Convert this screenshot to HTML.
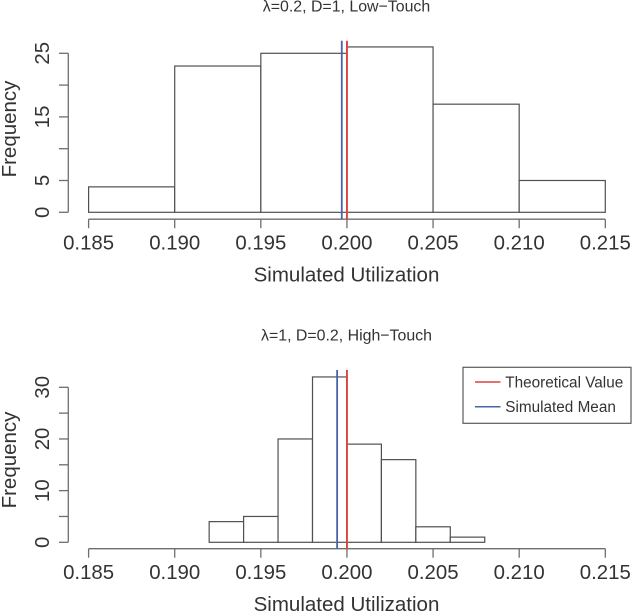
<!DOCTYPE html>
<html>
<head>
<meta charset="utf-8">
<style>
html,body{margin:0;padding:0;background:#fff;width:632px;height:612px;overflow:hidden}
svg{display:block;font-family:"Liberation Sans",sans-serif}
text{fill:#333}
</style>
</head>
<body>
<svg id="chart" xmlns="http://www.w3.org/2000/svg" width="632" height="612" viewBox="0 0 632 612"></svg>
<script>
const xTicks = [0.185, 0.19, 0.195, 0.2, 0.205, 0.21, 0.215];
const xTickLabels = ['0.185', '0.190', '0.195', '0.200', '0.205', '0.210', '0.215'];

const topBreaks = [0.185, 0.19, 0.195, 0.2, 0.205, 0.21, 0.215];
const topCounts = [4, 23, 25, 26, 17, 5];
const topYTicks = [0, 5, 10, 15, 20, 25];
const topYLabels = ['0', '5', '', '15', '', '25'];
const topTheoretical = 0.2;
const topMean = 0.1997;

const bottomBreaks = [0.192, 0.194, 0.196, 0.198, 0.2, 0.202, 0.204, 0.206, 0.208];
const bottomCounts = [4, 5, 20, 32, 19, 16, 3, 1];
const bottomYTicks = [0, 5, 10, 15, 20, 25, 30];
const bottomYLabels = ['0', '', '10', '', '20', '', '30'];
const bottomTheoretical = 0.2;
const bottomMean = 0.19943;

const svg = document.getElementById('chart');
const NS = 'http://www.w3.org/2000/svg';
const GREY = '#6e6e6e';
const BAR = '#505050';
const RED = '#d9443f';
const BLUE = '#4a62a8';

function make(parent, tag, attrs, txt) {
  const el = document.createElementNS(NS, tag);
  for (const k in attrs) el.setAttribute(k, attrs[k]);
  if (txt !== undefined) el.textContent = txt;
  parent.appendChild(el);
  return el;
}
function xPos(v) { return 88.6 + (v - 0.185) * (605.3 - 88.6) / 0.03; }

function drawPanel(cfg) {
  const g = make(svg, 'g', {});
  
  
  const yPos = v => cfg.y0 - v * cfg.unit;

  const title = make(g, 'text', {x: 346.5, y: cfg.titleY, 'text-anchor': 'middle', 'font-size': 15.9}, cfg.title);
  
  

  cfg.counts.forEach((c, i) => {
    const x0 = xPos(cfg.breaks[i]), x1 = xPos(cfg.breaks[i + 1]);
    const bar = make(g, 'rect', {x: x0, y: yPos(c), width: x1 - x0, height: c * cfg.unit, fill: '#fff', stroke: BAR, 'stroke-width': 1.2});
    
    
  });

  const xAxis = make(g, 'g', {});
  
  
  make(xAxis, 'line', {x1: xPos(xTicks[0]), x2: xPos(xTicks[xTicks.length - 1]), y1: cfg.axisY, y2: cfg.axisY, stroke: GREY, 'stroke-width': 1.3});
  xTicks.forEach((t, i) => {
    make(xAxis, 'line', {x1: xPos(t), x2: xPos(t), y1: cfg.axisY, y2: cfg.axisY + 9, stroke: GREY, 'stroke-width': 1.3});
    make(xAxis, 'text', {x: xPos(t), y: cfg.axisY + 30.5, 'text-anchor': 'middle', 'font-size': 20.4}, xTickLabels[i]);
  });

  const xTitle = make(g, 'text', {x: 346.5, y: cfg.axisY + 62.5, 'text-anchor': 'middle', 'font-size': 20.5}, 'Simulated Utilization');
  
  

  const yAxis = make(g, 'g', {});
  
  
  make(yAxis, 'line', {x1: 68.3, x2: 68.3, y1: yPos(cfg.yTicks[0]), y2: yPos(cfg.yTicks[cfg.yTicks.length - 1]), stroke: GREY, 'stroke-width': 1.3});
  cfg.yTicks.forEach((t, i) => {
    make(yAxis, 'line', {x1: 59, x2: 68.3, y1: yPos(t), y2: yPos(t), stroke: GREY, 'stroke-width': 1.3});
    if (cfg.yLabels[i]) {
      make(yAxis, 'text', {transform: 'translate(49 ' + yPos(t) + ') rotate(-90)', 'text-anchor': 'middle', 'font-size': 20.4}, cfg.yLabels[i]);
    }
  });

  const yTitle = make(g, 'text', {transform: 'translate(16 ' + cfg.yTitleY + ') rotate(-90)', 'text-anchor': 'middle', 'font-size': 20.5}, 'Frequency');
  
  

  const meanLine = make(g, 'line', {x1: xPos(cfg.mean), x2: xPos(cfg.mean), y1: cfg.lineTop, y2: cfg.axisY, stroke: BLUE, 'stroke-width': 1.8});
  
  
  const theoLine = make(g, 'line', {x1: xPos(cfg.theoretical), x2: xPos(cfg.theoretical), y1: cfg.lineTop, y2: cfg.axisY, stroke: RED, 'stroke-width': 1.9});
  
  
}

drawPanel({name: 'low-touch', title: 'λ=0.2, D=1, Low−Touch', titleY: 11.5, breaks: topBreaks, counts: topCounts, yTicks: topYTicks, yLabels: topYLabels, y0: 212.3, unit: 6.36, axisY: 219.2, yTitleY: 129, lineTop: 40.7, mean: topMean, theoretical: topTheoretical});
drawPanel({name: 'high-touch', title: 'λ=1, D=0.2, High−Touch', titleY: 340.7, breaks: bottomBreaks, counts: bottomCounts, yTicks: bottomYTicks, yLabels: bottomYLabels, y0: 542.3, unit: 5.167, axisY: 548.7, yTitleY: 460, lineTop: 370, mean: bottomMean, theoretical: bottomTheoretical});

const legend = make(svg, 'g', {});


make(legend, 'rect', {x: 463, y: 367.3, width: 168, height: 56, fill: '#fff', stroke: '#5a5a5a', 'stroke-width': 1.2});
const legendLabels = ['Theoretical Value', 'Simulated Mean'];
const legendColors = [RED, BLUE];
const legendRows = [382, 406.7];
legendLabels.forEach((label, i) => {
  const entry = make(legend, 'g', {});
  
  
  make(entry, 'line', {x1: 475, x2: 500.5, y1: legendRows[i], y2: legendRows[i], stroke: legendColors[i], 'stroke-width': 1.5});
  make(entry, 'text', {x: 505.3, y: legendRows[i] + 5.3, 'font-size': 15.3}, label);
});
</script>
</body>
</html>
